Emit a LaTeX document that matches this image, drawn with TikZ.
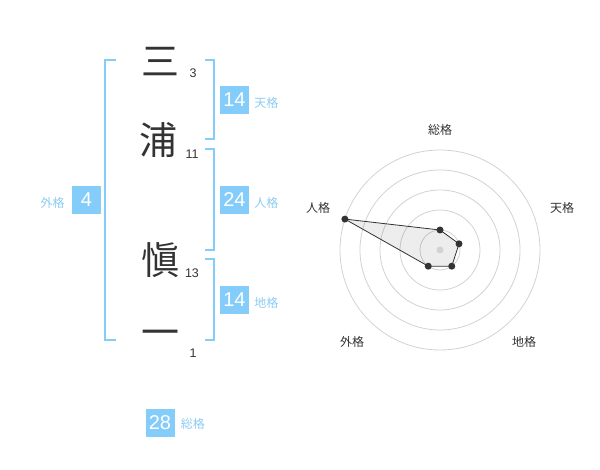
\documentclass[tikz,border=0pt]{standalone}
\usepackage{fontspec}
\setmainfont{Liberation Sans}
\newfontfamily\cjk{Noto Sans CJK JP}
\usetikzlibrary{positioning,calc}
\definecolor{skyblue}{HTML}{84CCF9}
\definecolor{labelblue}{HTML}{8CCBF2}
\definecolor{inkgrey}{HTML}{333333}
\definecolor{ringgrey}{HTML}{D2D2D2}

\begin{document}
\begin{tikzpicture}[x=1pt, y=-1pt,
	kanji/.style={font=\cjk\fontsize{38}{38}\selectfont, text=inkgrey, inner sep=0},
	strokes/.style={font=\fontsize{12.5}{12.5}\selectfont, text=inkgrey, inner sep=0},
	score/.style={fill=skyblue, text=white, font=\fontsize{20}{20}\selectfont, minimum width=29pt, minimum height=28pt, inner sep=0},
	kaku/.style={font=\cjk\fontsize{12}{12}\selectfont, text=labelblue, inner sep=0},
	bracket/.style={draw=skyblue, line width=2pt},
	ring/.style={draw=ringgrey, line width=0.8pt},
	axislabel/.style={font=\cjk\fontsize{12}{12}\selectfont, text=inkgrey, inner sep=0},
	dot/.style={circle, fill=inkgrey, inner sep=0, minimum size=7pt}]
				\useasboundingbox (0,0) rectangle (600,470);
				% name
				\node [kanji] (c1) at (160,62) {三};
				\node [kanji] (c2) at (158,140) {浦};
				\node [kanji] (c3) at (160,260) {愼};
				\node [kanji] (c4) at (160,338) {一};
				\node [strokes] (s1) at (193,73) {3};
				\node [strokes] (s2) at (192,154) {11};
				\node [strokes] (s3) at (192,273) {13};
				\node [strokes] (s4) at (193,353) {1};
				% brackets
				\draw [bracket] (116,60) -- (105,60) -- (105,340) -- (116,340);
				\draw [bracket] (205,60) -- (214,60) -- (214,139) -- (205,139);
				\draw [bracket] (205,149) -- (214,149) -- (214,250) -- (205,250);
				\draw [bracket] (205,259) -- (214,259) -- (214,340) -- (205,340);
				% scores
				\node [score] (ten) at (234.5,100) {14};
				\node [kaku, right=5pt of ten, yshift=-3pt] (tenl) {天格};
				\node [score] (jin) at (234.5,200) {24};
				\node [kaku, right=5pt of jin, yshift=-3pt] (jinl) {人格};
				\node [score] (chi) at (234.5,300) {14};
				\node [kaku, right=5pt of chi, yshift=-3pt] (chil) {地格};
				\node [score] (gai) at (86.5,200) {4};
				\node [kaku, left=7pt of gai, yshift=-3pt] (gail) {外格};
				\node [score] (sou) at (160,422.5) {28};
				\node [kaku, right=6pt of sou, yshift=-1pt] (soul) {総格};
				% radar
				\coordinate (o) at (440,250);
				\foreach \r in {20,40,...,100}
					\draw [ring] (o) circle (\r pt);
				\coordinate (p1) at ($(o)+(90:20pt)$);
				\coordinate (p2) at ($(o)+(18:20pt)$);
				\coordinate (p3) at ($(o)+(-54:20pt)$);
				\coordinate (p4) at ($(o)+(-126:20pt)$);
				\coordinate (p5) at ($(o)+(162:100pt)$);
				\filldraw [fill=black, fill opacity=0.07, draw=inkgrey, line width=0.8pt] (p1) -- (p2) -- (p3) -- (p4) -- (p5) -- cycle;
				\node [circle, fill=ringgrey, inner sep=0, minimum size=7pt] (mid) at (o) {};
				\foreach \p in {1,...,5}
					\node [dot] (d\p) at (p\p) {};
				\node [axislabel] (a1) at (440,130) {総格};
				\node [axislabel] (a2) at (562,208) {天格};
				\node [axislabel] (a3) at (524,342) {地格};
				\node [axislabel] (a4) at (352,342) {外格};
				\node [axislabel] (a5) at (318,208) {人格};
			\end{tikzpicture}
\end{document}
